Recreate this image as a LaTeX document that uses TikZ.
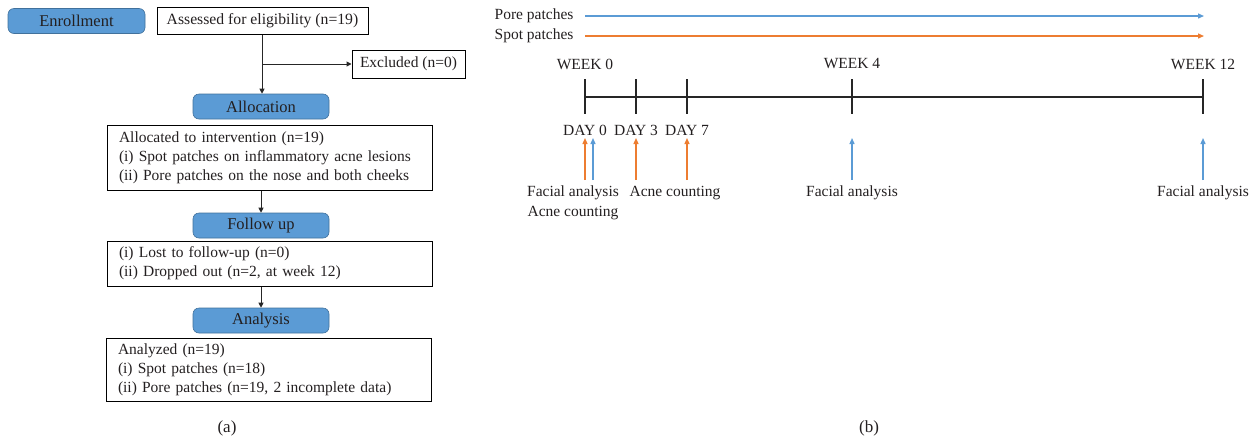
\documentclass[tikz,border=0pt]{standalone}
\usepackage{fontspec}
\setmainfont{Liberation Serif}
\usetikzlibrary{arrows.meta}
\definecolor{txt}{HTML}{231F20}
\definecolor{bfill}{HTML}{5B9BD5}
\definecolor{bdraw}{HTML}{41719C}
\definecolor{lblue}{HTML}{5B9BD5}
\definecolor{lorange}{HTML}{ED7D31}
\tikzset{
  every node/.style={text=txt, font=\fontsize{15.5}{19}\selectfont},
  phase/.style={draw=bdraw, fill=bfill, rounded corners=6pt, minimum width=136pt, minimum height=25pt, inner sep=0pt, line width=0.6pt, font=\fontsize{16.5}{19}\selectfont},
  wbox/.style={draw=black, line width=1pt, inner sep=0pt},
  lbox/.style={draw=black, line width=1pt, minimum width=325pt, text width=301pt, inner xsep=12pt, inner ysep=3pt, align=left},
  flow/.style={draw=black!85, line width=1pt, -{Triangle[length=5pt,width=5pt]}},
  tick/.style={draw=black!85, line width=1.3pt},
  barrow/.style={draw=lblue, line width=1.3pt, -{Triangle[length=6pt,width=5pt]}},
  oarrow/.style={draw=lorange, line width=1.3pt, -{Triangle[length=6pt,width=5pt]}},
}
\begin{document}
\begin{tikzpicture}[x=1pt,y=-1pt]
\useasboundingbox (0,0) rectangle (1258,440);
% ---------- (a) ----------
\node[phase, minimum width=137pt] (enr) at (76.5,21) {Enrollment};
\node[wbox, minimum width=211pt, minimum height=27pt, font=\fontsize{15.7}{18}\selectfont] (ass) at (262.5,20.5) {Assessed for eligibility (n=19)};
\node[wbox, minimum width=113pt, minimum height=28pt] (exc) at (408.5,64) {Excluded (n=0)};
\node[phase] (alo) at (261,106.5) {Allocation};
\node[lbox, minimum height=65pt] (alb) at (269.5,157.5) {Allocated to intervention (n=19)\\(i) Spot patches on inflammatory acne lesions\\(ii) Pore patches on the nose and both cheeks};
\node[phase] (fol) at (261,225.5) {Follow up};
\node[lbox, minimum height=45pt] (fob) at (269.5,263.5) {(i) Lost to follow-up (n=0)\\(ii) Dropped out (n=2, at week 12)};
\node[phase] (ana) at (261,320.5) {Analysis};
\node[lbox, minimum height=63pt, minimum width=323pt] (anb) at (268.5,369.5) {Analyzed (n=19)\\(i) Spot patches (n=18)\\(ii) Pore patches (n=19, 2 incomplete data)};
\coordinate (br) at (262,64);
\draw[flow] (ass.south -| br) -- (alo.north -| br);
\draw[flow] (br) -- (exc.west);
\draw[flow] (alb.south -| alo) -- (fol.north);
\draw[flow] (fob.south -| fol) -- (ana.north);
\node (la) at (227,428) {\fontsize{17}{19}\selectfont(a)};
% ---------- (b) ----------
\node[anchor=east] (pp) at (577,16) {Pore patches};
\node[anchor=east] (sp) at (577,36) {Spot patches};
\coordinate (pps) at (585,16);
\coordinate (sps) at (585,36);
\coordinate (ppe) at (1204,16);
\coordinate (spe) at (1204,36);
\draw[barrow] (pps) -- (ppe);
\draw[oarrow] (sps) -- (spe);
% timeline
\coordinate (t0) at (585,97);
\coordinate (t1) at (1203,97);
\draw[tick] (t0) -- (t1);
\foreach \x/\n in {585/a,636/b,687/c,852/d,1203/e}{
  \coordinate (tk\n) at (\x,97);
  \draw[tick] (\x,79) -- (\x,114);
}
\node (w0) at (585,64) {WEEK 0};
\node (w4) at (852,64) {WEEK 4};
\node (w12) at (1203,64) {WEEK 12};
\node (d0) at (585,130) {DAY 0};
\node (d3) at (636,130) {DAY 3};
\node (d7) at (687,130) {DAY 7};
% arrows
\coordinate (o0s) at (585,180); \coordinate (o0e) at (585,138);
\coordinate (b0s) at (593,180); \coordinate (b0e) at (593,138);
\coordinate (o3s) at (636,180); \coordinate (o3e) at (636,138);
\coordinate (o7s) at (687,180); \coordinate (o7e) at (687,138);
\coordinate (b4s) at (852,180); \coordinate (b4e) at (852,138);
\coordinate (b12s) at (1203,180); \coordinate (b12e) at (1203,138);
\draw[oarrow] (o0s) -- (o0e);
\draw[barrow] (b0s) -- (b0e);
\draw[oarrow] (o3s) -- (o3e);
\draw[oarrow] (o7s) -- (o7e);
\draw[barrow] (b4s) -- (b4e);
\draw[barrow] (b12s) -- (b12e);
\node (fa0) at (573,193) {Facial analysis};
\node (ac0) at (573,213) {Acne counting};
\node (ac7) at (675,193) {Acne counting};
\node (fa4) at (852,193) {Facial analysis};
\node (fa12) at (1203,193) {Facial analysis};
\node (lb) at (869,428) {\fontsize{17}{19}\selectfont(b)};
\end{tikzpicture}
\end{document}
